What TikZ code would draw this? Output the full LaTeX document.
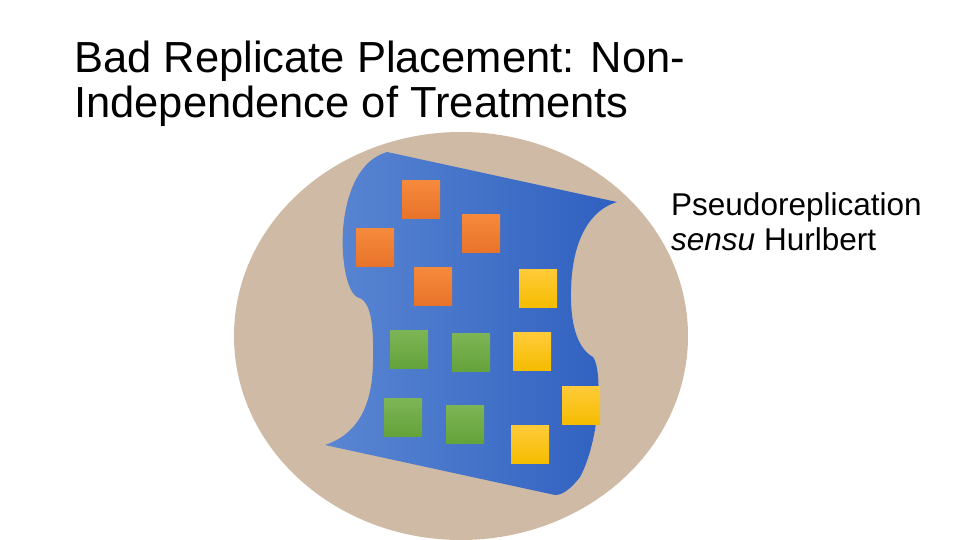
\documentclass[tikz,border=0pt]{standalone}
\usepackage{fontspec}
\setmainfont{Liberation Sans}
\definecolor{tan}{HTML}{CFBBA5}
\definecolor{bluel}{HTML}{5A86D2}
\definecolor{blued}{HTML}{2F60C0}
\definecolor{orl}{HTML}{F58A3C}
\definecolor{ord}{HTML}{E8732A}
\definecolor{yel}{HTML}{FFCB3A}
\definecolor{yed}{HTML}{F5BC00}
\definecolor{grl}{HTML}{7DB556}
\definecolor{grd}{HTML}{64A23A}
\begin{document}
\begin{tikzpicture}[x=1pt,y=-1pt,
  sq/.style={minimum size=38pt,inner sep=0pt,anchor=north west},
  orsq/.style={sq,top color=orl,bottom color=ord},
  yesq/.style={sq,top color=yel,bottom color=yed},
  grsq/.style={sq,top color=grl,bottom color=grd}]
\useasboundingbox (0,0) rectangle (960,540);
\fill[tan] (461,336) ellipse [x radius=227,y radius=204];
\shade[left color=bluel,right color=blued]
 (387,152) -- (617,202)
 .. controls (590,210) and (572,240) .. (571,290)
 .. controls (570,330) and (580,350) .. (593,357)
 .. controls (603,370) and (600,440) .. (580,477)
 .. controls (570,490) and (562,495) .. (555,495)
 -- (325,445)
 .. controls (355,435) and (372,410) .. (373,363)
 .. controls (374,320) and (370,300) .. (357,297)
 .. controls (345,290) and (340,250) .. (344,220)
 .. controls (348,190) and (360,160) .. (387,152) -- cycle;
\node[orsq] (o1) at (402,180) {};
\node[orsq] (o2) at (356,228) {};
\node[orsq] (o3) at (462,214) {};
\node[orsq] (o4) at (414,267) {};
\node[yesq] (y1) at (519,269) {};
\node[yesq] (y2) at (513,332) {};
\node[yesq] (y3) at (562,386) {};
\node[yesq] (y4) at (511,425) {};
\node[grsq] (g1) at (390,330) {};
\node[grsq] (g2) at (452,333) {};
\node[grsq] (g3) at (384,398) {};
\node[grsq] (g4) at (446,405) {};
\node[anchor=base west,inner sep=0pt,align=left,font=\fontsize{43.5}{45}\selectfont] (title) at (74,118)
 {Bad Replicate Placement: Non-\\Independence of Treatments};
\node[anchor=base west,inner sep=0pt,align=left,font=\fontsize{31.5}{35}\selectfont] (lab) at (671,250)
 {Pseudoreplication\\\textit{sensu} Hurlbert};
\end{tikzpicture}
\end{document}
